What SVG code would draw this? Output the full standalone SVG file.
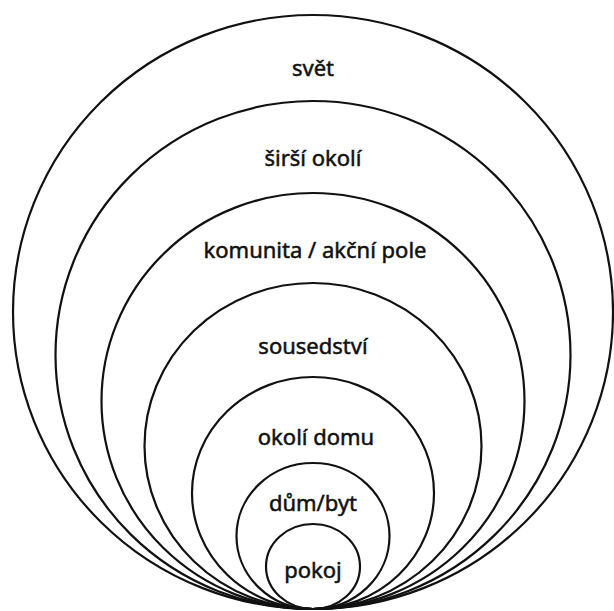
<svg xmlns="http://www.w3.org/2000/svg" width="614" height="611" viewBox="0 0 614 611">
<style>
.ring{fill:none;stroke:#111;stroke-width:2.2}
.lbl{font-family:"Noto Sans","Open Sans",sans-serif;font-size:22px;fill:#111;stroke:#111;stroke-width:0.5;text-anchor:middle}
</style>
<rect width="614" height="611" fill="#fff"/>
<g id="svet"><ellipse class="ring" cx="313" cy="312" rx="300" ry="297"/><text class="lbl" x="313" y="76">svět</text></g>
<g id="sirsi-okoli"><ellipse class="ring" cx="313" cy="355" rx="257.5" ry="254"/><text class="lbl" x="313" y="166">širší okolí</text></g>
<g id="komunita"><ellipse class="ring" cx="313" cy="401" rx="211.5" ry="208"/><text class="lbl" x="315" y="258">komunita / akční pole</text></g>
<g id="sousedstvi"><ellipse class="ring" cx="313" cy="446" rx="168.5" ry="163"/><text class="lbl" x="313" y="354">sousedství</text></g>
<g id="okoli-domu"><ellipse class="ring" cx="313" cy="493" rx="121" ry="116"/><text class="lbl" x="316" y="445">okolí domu</text></g>
<g id="dum-byt"><ellipse class="ring" cx="313" cy="536" rx="76.5" ry="73"/><text class="lbl" x="313" y="511">dům/byt</text></g>
<g id="pokoj"><ellipse class="ring" cx="313" cy="566.5" rx="47" ry="42.5"/><text class="lbl" x="313" y="578">pokoj</text></g>
<g id="connectors"/>
</svg>
